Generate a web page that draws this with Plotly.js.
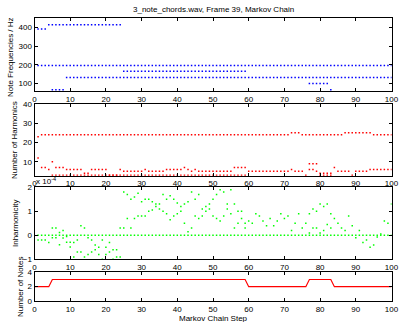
<!DOCTYPE html>
<html>
<head>
<meta charset="utf-8">
<script src="https://cdn.plot.ly/plotly-3.0.1.min.js"></script>
<style>html,body{margin:0;padding:0;background:#fff;}#chart{width:400px;height:322px;}</style>
</head>
<body>
<div id="chart"></div>
<script>
// ---- data ----
const steps = [
  1,2,3,4,5,6,7,8,9,10, 11,12,13,14,15,16,17,18,19,20,
  21,22,23,24,25,26,27,28,29,30, 31,32,33,34,35,36,37,38,39,40,
  41,42,43,44,45,46,47,48,49,50, 51,52,53,54,55,56,57,58,59,60,
  61,62,63,64,65,66,67,68,69,70, 71,72,73,74,75,76,77,78,79,80,
  81,82,83,84,85,86,87,88,89,90, 91,92,93,94,95,96,97,98,99,100
];
const xTicks = [0,10,20,30,40,50,60,70,80,90,100];

// note frequencies (Hz) per step
const freqHigh = [
  392,392,392,415,415,415,415,415,415,415,
  415,415,415,415,415,415,415,415,415,415,
  415,415,415,415,196,196,196,196,196,196,
  196,196,196,196,196,196,196,196,196,196,
  196,196,196,196,196,196,196,196,196,196,
  196,196,196,196,196,196,196,196,196,196,
  196,196,196,196,196,196,196,196,196,196,
  196,196,196,196,196,196,196,196,196,196,
  196,196,196,196,196,196,196,196,196,196,
  196,196,196,196,196,196,196,196,196,196
];
const freqMid = [
  196,196,196,196,196,196,196,196,196,196,
  196,196,196,196,196,196,196,196,196,196,
  196,196,196,196,165,165,165,165,165,165,
  165,165,165,165,165,165,165,165,165,165,
  165,165,165,165,165,165,165,165,165,165,
  165,165,165,165,165,165,165,165,165,131,
  131,131,131,131,131,131,131,131,131,131,
  131,131,131,131,131,131,131,131,131,131,
  131,131,131,131,131,131,131,131,131,131,
  131,131,131,131,131,131,131,131,131,131
];
const freqLow = [
  null,null,null,null,65,65,65,65,131,131,
  131,131,131,131,131,131,131,131,131,131,
  131,131,131,131,131,131,131,131,131,131,
  131,131,131,131,131,131,131,131,131,131,
  131,131,131,131,131,131,131,131,131,131,
  131,131,131,131,131,131,131,131,131,null,
  null,null,null,null,null,null,null,null,null,null,
  null,null,null,null,null,null,98,98,98,98,
  98,98,65,null,null,null,null,null,null,null,
  null,null,null,null,null,null,null,null,null,null
];

// number of harmonics per note
const harmHigh = [
  23,24,24,24,24,24,24,24,24,24,
  24,24,24,24,24,24,24,24,24,24,
  24,24,24,24,24,24,24,24,24,24,
  24,24,24,24,24,24,24,24,24,24,
  24,24,24,24,24,24,24,24,24,24,
  24,24,24,24,24,24,24,24,24,24,
  24,24,24,24,24,24,24,24,24,24,
  24,25,25,25,24,24,24,24,24,24,
  24,24,24,24,24,24,25,25,25,25,
  25,25,25,25,24,24,24,24,24,24
];
const harmMid = [
  12,7,7,6,10,7,7,7,6,6,
  6,6,6,4,4,6,6,6,6,6,
  3,3,3,6,5,5,5,5,5,5,
  6,5,5,5,5,5,6,6,6,6,
  6,7,6,5,6,5,5,5,5,5,
  5,5,5,5,5,7,7,7,7,5,
  5,5,5,5,5,5,5,5,5,5,
  5,6,5,5,5,3,9,9,9,4,
  4,4,4,7,5,5,5,5,3,5,
  5,5,5,6,6,6,6,6,6,6
];
const harmLow = [
  null,null,null,null,3,3,3,3,3,3,
  3,3,3,3,3,3,3,3,3,3,
  3,3,3,3,3,3,3,3,3,3,
  3,3,3,3,3,3,3,3,3,3,
  3,3,3,3,3,3,3,3,3,3,
  3,3,3,3,3,3,3,3,3,null,
  null,null,null,null,null,null,null,null,null,null,
  null,null,null,null,null,null,6,6,5,3,
  3,3,3,null,null,null,null,null,null,null,
  null,null,null,null,null,null,null,null,null,null
];

// inharmonicity (x 1e-4)
const inhZero = [
  0,0,0,0,0,0,0,0,0,0, 0,0,0,0,0,0,0,0,0,0,
  0,0,0,0,0,0,0,0,0,0, 0,0,0,0,0,0,0,0,0,0,
  0,0,0,0,0,0,0,0,0,0, 0,0,0,0,0,0,0,0,0,0,
  0,0,0,0,0,0,0,0,0,0, 0,0,0,0,0,0,0,0,0,0,
  0,0,0,0,0,0,0,0,0,0, 0,0,0,0,0,0,0,0,0,0
];
const inhA = [
  -0.2,-0.2,-0.2,-0.3,0.3,0.3,0.12,0.2,-0.05,-0.29,
  -0.3,-0.2,0.4,0.3,-0.1,-0.2,-0.4,-0.5,-0.2,-0.5,
  -0.3,-0.6,-0.6,0.3,1.8,1.7,1.5,1.6,1.75,1.4,
  1.5,1.5,1.4,1.3,1.3,1.7,1.5,1.65,1.5,1.35,
  1.2,1.3,1.4,1.8,1.5,1.7,1.1,1.2,1.3,1.5,
  1.7,1.9,1.8,1.3,1.9,1.3,1.0,0.7,0.5,0.6,
  0.5,0.9,0.8,0.6,0.4,0.7,0.4,0.6,0.9,0.7,
  0.8,0.2,0.5,0.9,0.3,0.5,0.9,1.1,1.0,1.3,
  1.2,1.3,0.9,0.7,0.5,0.3,0.2,0.8,0.4,-0.1,
  0.2,-0.3,-0.2,-0.5,-0.4,-0.07,0.05,0.6,0.5,1.3
];
const inhB = [
  null,null,null,null,-0.1,-0.1,-0.39,-0.11,-0.29,-0.49,
  -0.9,-0.7,-0.7,-0.9,-0.8,-0.7,-0.6,-0.8,-1.0,-0.8,
  -0.7,-1.0,-0.9,-0.9,0.3,0.7,0.3,0.7,0.8,0.8,
  0.8,1.0,1.05,1.2,1.1,1.0,0.9,0.65,0.8,0.9,
  1.0,0.5,0.15,0.3,0.8,0.7,0.8,1.0,1.1,0.8,
  0.7,0.6,0.8,1.1,0.9,0.3,0.5,1.0,0.3,null,
  null,null,null,null,null,null,null,null,null,null,
  null,null,null,null,null,null,0.1,0.3,0.3,0.1,
  0.2,0.45,0.3,null,null,null,null,null,null,null,
  null,null,null,null,null,null,null,null,null,null
];

// number of notes (steps 0..100)
const noteSteps = [0].concat(steps);
const noteCount = [
  2,
  2,2,2,2,3,3,3,3,3,3,
  3,3,3,3,3,3,3,3,3,3,
  3,3,3,3,3,3,3,3,3,3,
  3,3,3,3,3,3,3,3,3,3,
  3,3,3,3,3,3,3,3,3,3,
  3,3,3,3,3,3,3,3,3,2,
  2,2,2,2,2,2,2,2,2,2,
  2,2,2,2,2,2,3,3,3,3,
  3,3,3,2,2,2,2,2,2,2,
  2,2,2,2,2,2,2,2,2,2
];

// ---- drawing ----
const W = 400, H = 322;
const FONT = 'Liberation Sans, Arial, Helvetica, sans-serif';
const BLUE = '#0000ff', RED = '#ff0000', GREEN = '#00ff00';

function dots(x, y, color, xa, ya) {
  return {x: x, y: y, xaxis: xa, yaxis: ya, type: 'scatter', mode: 'markers',
    marker: {color: color, size: 1.5, symbol: 'square', line: {width: 0}},
    hoverinfo: 'skip', showlegend: false};
}

const traces = [
  dots(steps, freqHigh, BLUE, 'x', 'y'),
  dots(steps, freqMid, BLUE, 'x', 'y'),
  dots(steps, freqLow, BLUE, 'x', 'y'),
  dots(steps, harmHigh, RED, 'x2', 'y2'),
  dots(steps, harmMid, RED, 'x2', 'y2'),
  dots(steps, harmLow, RED, 'x2', 'y2'),
  dots(steps, inhZero, GREEN, 'x3', 'y3'),
  dots(steps, inhA, GREEN, 'x3', 'y3'),
  dots(steps, inhB, GREEN, 'x3', 'y3'),
  {x: noteSteps, y: noteCount, xaxis: 'x4', yaxis: 'y4', type: 'scatter', mode: 'lines',
   line: {color: RED, width: 1.2}, hoverinfo: 'skip', showlegend: false}
];

const xDom = [34.5 / W, 391.5 / W];
function yDom(top, bottom) { return [1 - bottom / H, 1 - top / H]; }

function xAxis(anchor) {
  return {domain: xDom, anchor: anchor, range: [0, 100], tickvals: xTicks,
    ticks: 'inside', ticklen: 3, tickcolor: '#000', showline: true, linecolor: '#000',
    linewidth: 1, mirror: 'ticks', showgrid: false, zeroline: false,
    tickfont: {family: FONT, size: 8, color: '#000'}, fixedrange: true};
}
function yAxis(anchor, dom, range, tv) {
  return {domain: dom, anchor: anchor, range: range, tickvals: tv,
    ticks: 'inside', ticklen: 3, tickcolor: '#000', showline: true, linecolor: '#000',
    linewidth: 1, mirror: 'ticks', showgrid: false, zeroline: false,
    tickfont: {family: FONT, size: 8, color: '#000'}, fixedrange: true};
}

function ann(text, px, py, angle, extra) {
  return Object.assign({text: text, xref: 'paper', yref: 'paper', x: px / W, y: 1 - py / H,
    xanchor: 'center', yanchor: 'middle', showarrow: false, textangle: angle || 0,
    font: {family: FONT, size: 8, color: '#000'}}, extra || {});
}

const layout = {
  width: W, height: H,
  margin: {l: 0, r: 0, t: 0, b: 0},
  paper_bgcolor: '#fff', plot_bgcolor: '#fff',
  showlegend: false,
  xaxis: xAxis('y'),
  yaxis: yAxis('x', yDom(18, 91), [58, 452], [100, 200, 300, 400]),
  xaxis2: xAxis('y2'),
  yaxis2: yAxis('x2', yDom(104, 175.7), [2.75, 40], [10, 20, 30, 40]),
  xaxis3: xAxis('y3'),
  yaxis3: yAxis('x3', yDom(187.3, 259.3), [-1, 2], [-1, 0, 1, 2]),
  xaxis4: xAxis('y4'),
  yaxis4: yAxis('x4', yDom(272.3, 301), [0, 4], [0, 2, 4]),
  annotations: [
    ann('3_note_chords.wav, Frame 39, Markov Chain', 213, 10),
    ann('Note Frequencies / Hz', 10, 57, -90),
    ann('Number of Harmonics', 15, 140, -90),
    ann('Inharmonicity', 15, 223, -90),
    ann('Number of Notes', 20, 287, -90),
    ann('Markov Chain Step', 213, 318),
    ann('x 10<sup>-4</sup>', 34, 181, 0, {xanchor: 'left'})
  ]
};

Plotly.newPlot('chart', traces, layout, {staticPlot: true, displayModeBar: false});
</script>
</body>
</html>
